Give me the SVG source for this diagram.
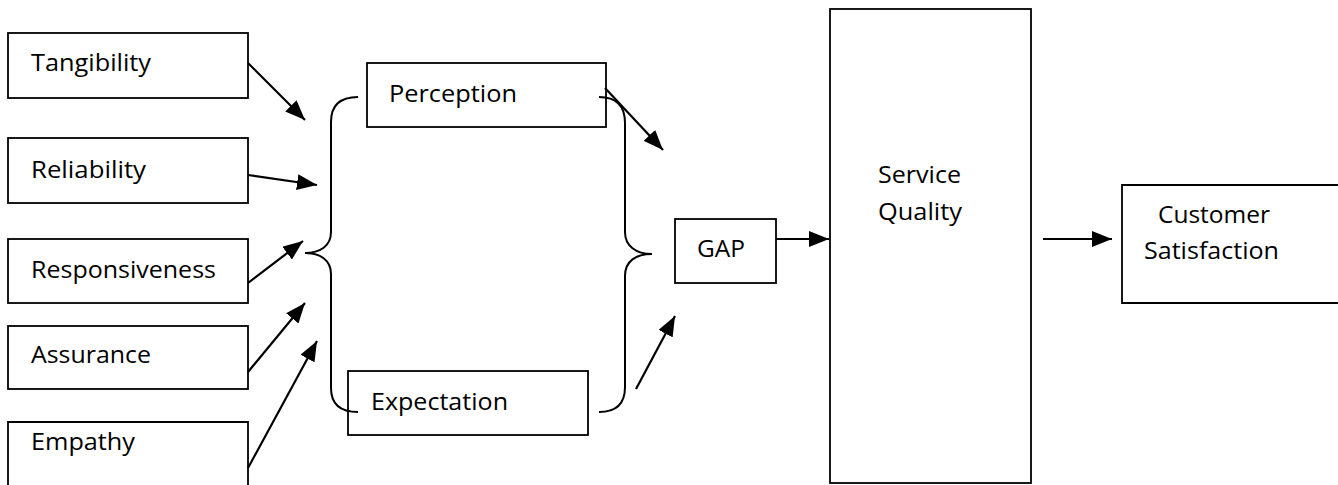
<svg xmlns="http://www.w3.org/2000/svg" width="1338" height="485" viewBox="0 0 1338 485">
<style>
.box{fill:#fff;stroke:#000;stroke-width:1.8}
.t{font-family:"Open Sans","Liberation Sans",sans-serif;font-size:24px;fill:#000}
.c{fill:none;stroke:#000;stroke-width:2.2}
.b{fill:none;stroke:#000;stroke-width:2}
</style>
<defs>
<marker id="ah" markerUnits="userSpaceOnUse" markerWidth="20" markerHeight="16" viewBox="0 0 20 16" refX="20" refY="8" orient="auto">
<path d="M0,0 L20,8 L0,16 Z" fill="#000"/>
</marker>
</defs>
<rect width="1338" height="485" fill="#fff"/>
<g id="tangibility"><rect class="box" x="8" y="33" width="240" height="65"/><text class="t" x="31" y="71" textLength="120" lengthAdjust="spacingAndGlyphs">Tangibility</text></g>
<g id="reliability"><rect class="box" x="8" y="138" width="240" height="65"/><text class="t" x="31" y="178" textLength="115" lengthAdjust="spacingAndGlyphs">Reliability</text></g>
<g id="responsiveness"><rect class="box" x="8" y="239" width="240" height="64"/><text class="t" x="31" y="278" textLength="185" lengthAdjust="spacingAndGlyphs">Responsiveness</text></g>
<g id="assurance"><rect class="box" x="8" y="326" width="240" height="63"/><text class="t" x="31" y="363" textLength="120" lengthAdjust="spacingAndGlyphs">Assurance</text></g>
<g id="empathy"><path class="box" d="M8,490 L8,422 L248,422 L248,490"/><text class="t" x="31" y="450" textLength="104" lengthAdjust="spacingAndGlyphs">Empathy</text></g>
<g id="perception"><rect class="box" x="367" y="63" width="239" height="64"/><text class="t" x="389" y="102" textLength="128" lengthAdjust="spacingAndGlyphs">Perception</text></g>
<g id="expectation"><rect class="box" x="348" y="371" width="240" height="64"/><text class="t" x="371" y="410" textLength="137" lengthAdjust="spacingAndGlyphs">Expectation</text></g>
<g id="gap"><rect class="box" x="675" y="219" width="101" height="64"/><text class="t" x="697" y="257" textLength="48" lengthAdjust="spacingAndGlyphs">GAP</text></g>
<g id="service-quality"><rect class="box" x="830" y="9" width="201" height="474"/><text class="t" x="878" y="183" textLength="83" lengthAdjust="spacingAndGlyphs">Service</text><text class="t" x="878" y="220" textLength="84" lengthAdjust="spacingAndGlyphs">Quality</text></g>
<g id="customer-satisfaction"><path class="box" d="M1345,185 L1122,185 L1122,303 L1345,303"/><text class="t" x="1158" y="223" textLength="112" lengthAdjust="spacingAndGlyphs">Customer</text><text class="t" x="1144" y="259" textLength="135" lengthAdjust="spacingAndGlyphs">Satisfaction</text></g>
<g id="braces">
<path class="b" d="M358,97 C340,97 331,105 331,122 L331,232 C331,246 320,253 305,253 C320,253 331,260 331,274 L331,388 C331,404 340,412 358,412"/>
<path class="b" d="M599,97 C617,97 625,107 625,123 L625,232 C625,246 636,254 652,254 C636,254 625,261 625,276 L625,387 C625,403 617,412 599,412"/>
</g>
<g id="connectors">
<line class="c" x1="248" y1="63" x2="305" y2="120" marker-end="url(#ah)"/>
<line class="c" x1="248" y1="175" x2="317" y2="185" marker-end="url(#ah)"/>
<line class="c" x1="248" y1="283" x2="303" y2="241" marker-end="url(#ah)"/>
<line class="c" x1="248" y1="372" x2="305" y2="303" marker-end="url(#ah)"/>
<line class="c" x1="248" y1="468" x2="317" y2="341" marker-end="url(#ah)"/>
<line class="c" x1="605" y1="88" x2="663" y2="150" marker-end="url(#ah)"/>
<line class="c" x1="636" y1="389" x2="675" y2="316" marker-end="url(#ah)"/>
<line class="c" x1="776" y1="239" x2="829" y2="239" marker-end="url(#ah)"/>
<line class="c" x1="1043" y1="239" x2="1112" y2="239" marker-end="url(#ah)"/>
</g>
</svg>
